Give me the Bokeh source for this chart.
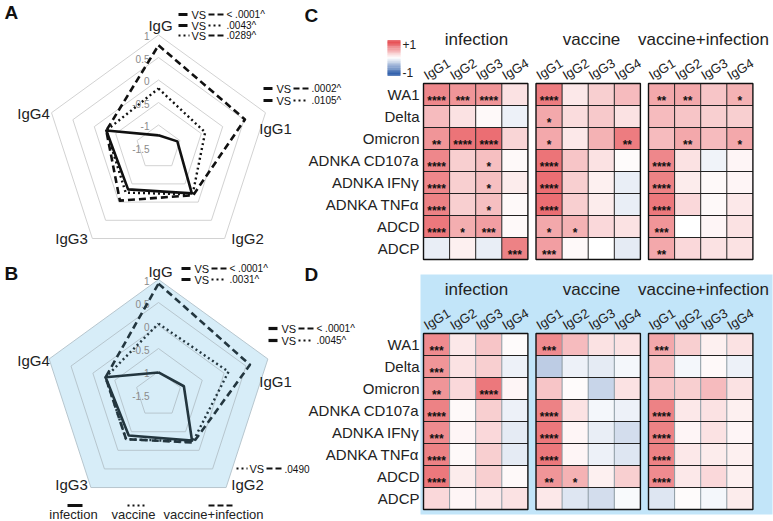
import math
from bokeh.plotting import figure
from bokeh.models import Range1d
from bokeh.embed import file_html
from bokeh.resources import INLINE
from bokeh.core.properties import value

W, H = 773, 521
FONT = "Liberation Sans"

# ---------------- data ----------------
radar_axes = ["IgG", "IgG1", "IgG2", "IgG3", "IgG4"]
radar_ticks = [1, 0.5, 0, -0.5, -1, -1.5]
radar_min = -1.5
legend_labels = ["infection", "vaccine", "vaccine+infection"]

A_infection = [-1.23, -1.06, -0.24, -0.35, -0.28]
A_vaccine = [-0.19, -0.41, -0.21, -0.26, -0.28]
A_vacinf = [0.77, 0.52, -0.19, -0.04, -0.28]

B_infection = [-1.02, -0.92, -0.26, -0.40, -0.29]
B_vaccine = [0.04, 0.10, -0.23, -0.30, -0.29]
B_vacinf = [0.91, 0.59, -0.21, -0.30, -0.29]

A_top_pvals = ["< .0001^", ".0043^", ".0289^"]
A_igg1_pvals = [".0002^", ".0105^"]
B_top_pvals = ["< .0001^", ".0031^"]
B_igg1_pvals = ["< .0001^", ".0045^"]
B_igg2_pvals = [".0490"]

hm_rows = ["WA1", "Delta", "Omicron", "ADNKA CD107a", "ADNKA IFNγ",
           "ADNKA TNFα", "ADCD", "ADCP"]
hm_cols = ["IgG1", "IgG2", "IgG3", "IgG4"]
hm_groups = ["infection", "vaccine", "vaccine+infection"]

C_infection = [[0.62, 0.55, 0.55, 0.15], [0.35, 0.15, 0.03, -0.08],
               [0.55, 0.72, 0.75, 0.22], [0.62, 0.25, 0.33, 0.03],
               [0.62, 0.25, 0.33, 0.10], [0.65, 0.25, 0.33, 0.03],
               [0.70, 0.42, 0.50, 0.03], [-0.10, 0.08, -0.10, 0.65]]
C_infection_sig = [["****", "***", "****", ""], ["", "", "", ""],
                   ["**", "****", "****", ""], ["****", "", "*", ""],
                   ["****", "", "*", ""], ["****", "", "*", ""],
                   ["****", "*", "***", ""], ["", "", "", "***"]]
C_vaccine = [[0.68, 0.12, 0.25, 0.35], [0.45, 0.18, 0.28, 0.15],
             [0.45, 0.12, 0.40, 0.68], [0.72, 0.30, 0.15, 0.02],
             [0.75, 0.25, 0.08, -0.10], [0.75, 0.25, 0.10, -0.10],
             [0.45, 0.40, 0.20, 0.15], [0.50, 0.03, 0.00, -0.12]]
C_vaccine_sig = [["****", "", "", ""], ["*", "", "", ""],
                 ["*", "", "", "**"], ["****", "", "", ""],
                 ["****", "", "", ""], ["****", "", "", ""],
                 ["*", "*", "", ""], ["***", "", "", ""]]
C_vacinf = [[0.45, 0.45, 0.30, 0.40], [0.35, 0.30, 0.25, 0.25],
            [0.35, 0.45, 0.35, 0.45], [0.62, 0.15, -0.07, 0.05],
            [0.65, 0.10, 0.03, 0.05], [0.70, 0.20, 0.03, 0.12],
            [0.55, 0.00, 0.05, 0.15], [0.45, 0.20, 0.15, 0.15]]
C_vacinf_sig = [["**", "**", "", "*"], ["", "", "", ""],
                ["", "**", "", "*"], ["****", "", "", ""],
                ["****", "", "", ""], ["****", "", "", ""],
                ["***", "", "", ""], ["**", "", "", ""]]

D_infection = [[0.60, 0.12, 0.30, 0.02], [0.55, 0.15, 0.25, -0.08],
               [0.55, 0.20, 0.70, 0.05], [0.65, 0.03, 0.25, -0.08],
               [0.60, 0.05, 0.20, -0.12], [0.65, 0.03, 0.25, -0.12],
               [0.70, 0.10, 0.25, 0.03], [0.20, 0.05, 0.12, 0.15]]
D_infection_sig = [["***", "", "", ""], ["***", "", "", ""],
                   ["**", "", "****", ""], ["****", "", "", ""],
                   ["***", "", "", ""], ["****", "", "", ""],
                   ["****", "", "", ""], ["", "", "", ""]]
D_vaccine = [[0.60, 0.35, 0.15, 0.15], [-0.30, -0.08, -0.12, -0.05],
             [0.30, 0.02, -0.25, 0.15], [0.65, 0.15, -0.05, -0.08],
             [0.70, 0.05, -0.10, -0.20], [0.70, 0.05, -0.08, -0.15],
             [0.55, 0.40, 0.08, 0.25], [0.12, -0.15, -0.20, -0.03]]
D_vaccine_sig = [["***", "", "", ""], ["", "", "", ""],
                 ["", "", "", ""], ["****", "", "", ""],
                 ["****", "", "", ""], ["****", "", "", ""],
                 ["**", "*", "", ""], ["", "", "", ""]]
D_vacinf = [[0.45, 0.25, 0.08, 0.15], [0.30, -0.05, 0.03, -0.08],
            [0.30, 0.25, 0.35, 0.15], [0.65, 0.12, 0.15, 0.08],
            [0.65, 0.05, 0.15, 0.05], [0.65, 0.12, 0.10, 0.08],
            [0.60, 0.12, 0.20, 0.08], [-0.15, 0.02, -0.05, 0.10]]
D_vacinf_sig = [["***", "", "", ""], ["", "", "", ""],
                ["", "", "", ""], ["****", "", "", ""],
                ["****", "", "", ""], ["****", "", "", ""],
                ["****", "", "", ""], ["", "", "", ""]]

# ---------------- figure ----------------
p = figure(width=W, height=H, output_backend="svg", toolbar_location=None,
           x_range=Range1d(0, W), y_range=Range1d(0, H),
           x_axis_location=None, y_axis_location=None, min_border=0)
p.grid.visible = False
p.outline_line_color = None
p.background_fill_color = "white"


def X(rx):
    return rx


def Y(ry):
    return H - ry


def txt(xs, ys, texts, size, color="#222222", align="left", baseline="middle",
        style="normal", angle=0.0):
    p.text(x=[X(v) for v in xs], y=[Y(v) for v in ys], text=texts,
           text_font=value(FONT), text_font_size=size, text_color=color,
           text_align=align, text_baseline=baseline, text_font_style=style,
           angle=angle)


# ---------------- panel D background ----------------
p.quad(left=[X(420)], right=[X(772)], top=[Y(274)], bottom=[Y(514)],
       fill_color="#c2e5f9", line_color=None)


# ---------------- radar ----------------
def radar(cx, cy, k, series, color, bg=None, grid="#d2d2d2"):
    angs = [math.radians(90 - 72 * i) for i in range(5)]

    def pts(vals):
        xs, ys = [], []
        for v, a in zip(vals, angs):
            r = (v - radar_min) * k
            xs.append(X(cx + r * math.cos(a)))
            ys.append(Y(cy - r * math.sin(a)))
        return xs + [xs[0]], ys + [ys[0]]

    if bg:
        xs, ys = pts([radar_ticks[0]] * 5)
        p.patch(xs, ys, fill_color=bg, line_color=None)
    for t in radar_ticks[:-1]:
        xs, ys = pts([t] * 5)
        p.line(xs, ys, line_color=grid, line_width=1)
    txt([cx - 9] * len(radar_ticks),
        [cy - (t - radar_min) * k + 1 for t in radar_ticks],
        [("%g" % t) for t in radar_ticks], "10px", color="#8a8a8a", align="right")
    styles = [("solid", 2.6), ("2 3", 2.4), ("7 4", 2.6)]
    for vals, (dash, lw) in zip(series, styles):
        xs, ys = pts(vals)
        p.line(xs, ys, line_color=color, line_width=lw, line_dash=dash,
               line_join="round")


radar(158, 147, 45, [A_infection, A_vaccine, A_vacinf], "#111111")
radar(158, 394, 46, [B_infection, B_vaccine, B_vacinf], "#23363f",
      bg="#d7edf8", grid="#b7c6ce")

txt([160, 275, 247, 71, 33], [25, 128, 238, 238, 113], radar_axes, "15px",
    color="#222222", align="center")
txt([160, 275, 247, 71, 33], [271, 381, 484, 484, 360], radar_axes, "15px",
    color="#222222", align="center")


# ---------------- VS annotations ----------------
def sym(kind, x0, x1, y, color):
    if kind == "solid":
        p.line([X(x0), X(x1)], [Y(y), Y(y)], line_color=color, line_width=3.2)
    elif kind == "dash":
        p.line([X(x0), X(x1)], [Y(y), Y(y)], line_color=color, line_width=2.2,
               line_dash="6 3")
    else:
        p.line([X(x0), X(x1)], [Y(y), Y(y)], line_color=color, line_width=2.2,
               line_dash="2 3")


def anno(x0, y, k1, k2, pv, color="#111111"):
    sym(k1, x0, x0 + 9 if k1 == "solid" else x0 + 11, y, color)
    txt([x0 + 13], [y], ["VS"], "11px", color=color)
    sym(k2, x0 + 30, x0 + 45, y, color)
    txt([x0 + 48], [y], [pv], "10px", color=color)


anno(178, 14, "solid", "dash", A_top_pvals[0])
anno(178, 25, "solid", "dot", A_top_pvals[1])
anno(178, 35, "dot", "dash", A_top_pvals[2])
anno(263, 88, "solid", "dash", A_igg1_pvals[0])
anno(263, 100, "solid", "dot", A_igg1_pvals[1])

anno(181, 268, "solid", "dash", B_top_pvals[0])
anno(181, 279, "solid", "dot", B_top_pvals[1])
anno(268, 328, "solid", "dash", B_igg1_pvals[0])
anno(268, 340, "solid", "dot", B_igg1_pvals[1])
anno(236, 468, "dot", "dash", B_igg2_pvals[0])

# legend under B
sym("solid", 67, 82, 505, "#111111")
sym("dot", 127, 144, 505, "#111111")
sym("dash", 208, 232, 505, "#111111")
txt([73, 133, 213], [514, 514, 514], legend_labels, "13px", color="#222222",
    align="center")

# panel letters
txt([4, 4, 304, 304], [12, 273, 15, 274], ["A", "B", "C", "D"], "19px",
    color="#111111", style="bold")


# ---------------- heatmaps ----------------
RED = (228, 62, 68)
BLUE = (36, 86, 166)


def cmap(v):
    v = max(-1.0, min(1.0, v))
    tgt = RED if v >= 0 else BLUE
    a = abs(v)
    c = [round(255 + a * (t - 255)) for t in tgt]
    return "#%02x%02x%02x" % tuple(c)


lefts = [423, 535.5, 648]
CW = 26.1
RH = 22.0
title_x = [476, 591, 703]


def heatmap(top, groups_vals, groups_sig, vline_color):
    txt([419] * len(hm_rows), [top + RH * (i + 0.5) for i in range(len(hm_rows))],
        hm_rows, "15px", color="#222222", align="right")
    for gi, (vals, sig) in enumerate(zip(groups_vals, groups_sig)):
        left = lefts[gi]
        xs, ys, cols = [], [], []
        sx, sy, st = [], [], []
        for ri, row in enumerate(vals):
            for ci, v in enumerate(row):
                cx = left + CW * (ci + 0.5)
                cy = top + RH * (ri + 0.5)
                xs.append(X(cx))
                ys.append(Y(cy))
                cols.append(cmap(v))
                if sig[ri][ci]:
                    sx.append(cx)
                    sy.append(cy + 6.5)
                    st.append(sig[ri][ci])
        p.rect(x=xs, y=ys, width=CW, height=RH, fill_color=cols,
               line_color=None)
        for ci in range(1, 4):
            xx = X(left + CW * ci)
            p.line([xx, xx], [Y(top), Y(top + RH * 8)], line_color=vline_color,
                   line_width=1)
        for ri in range(1, 8):
            yy = Y(top + RH * ri)
            p.line([X(left), X(left + CW * 4)], [yy, yy], line_color="#222222",
                   line_width=1)
        p.rect(x=[X(left + CW * 2)], y=[Y(top + RH * 4)], width=CW * 4,
               height=RH * 8, fill_color=None, line_color="#111111",
               line_width=1.4)
        txt(sx, sy, st, "12px", color="#111111", align="center",
            baseline="alphabetic", style="bold")
        txt([left + CW * ci + 1.5 for ci in range(4)], [top - 7] * 4, hm_cols,
            "13px", color="#222222", align="left", angle=math.radians(31))
        txt([title_x[gi]], [top - 44], [hm_groups[gi]], "17px",
            color="#222222", align="center")


heatmap(83, [C_infection, C_vaccine, C_vacinf],
        [C_infection_sig, C_vaccine_sig, C_vacinf_sig], "#222222")
heatmap(333, [D_infection, D_vaccine, D_vacinf],
        [D_infection_sig, D_vaccine_sig, D_vacinf_sig], "#8d9aa2")

# colour bar for C
bar_vals = [1 - 2 * i / 39 for i in range(40)]
by0, by1 = 40, 75
step = (by1 - by0) / len(bar_vals)
p.rect(x=[X(393.5)] * len(bar_vals),
       y=[Y(by0 + step * (i + 0.5)) for i in range(len(bar_vals))],
       width=13, height=step + 0.3, fill_color=[cmap(v) for v in bar_vals],
       line_color=None)
txt([402, 402], [44, 72], ["+1", "-1"], "12px", color="#222222")

open("out.html", "w").write(file_html(p, INLINE))
